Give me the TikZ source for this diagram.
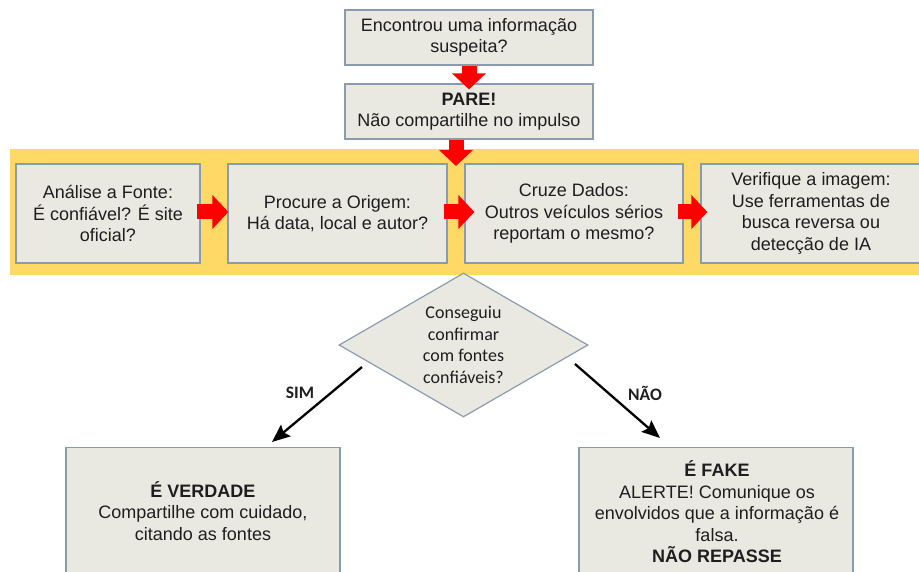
\documentclass[tikz,border=0pt]{standalone}
\usepackage{fontspec}
\setmainfont{Liberation Sans}
\newfontfamily\calib{Carlito}
\usetikzlibrary{arrows.meta,shapes.geometric,calc}
\definecolor{boxfill}{HTML}{EAE9E1}
\definecolor{boxline}{HTML}{8A9BB0}
\definecolor{band}{HTML}{FFD966}
\definecolor{txt}{HTML}{1E1E1E}
\tikzset{
  stepbox/.style={draw=boxline, line width=1.2pt, fill=boxfill, inner sep=0pt, align=center,
    text=txt, font=\fontsize{18}{21.5}\selectfont},
  fatarrow/.style={draw=red, line width=15pt, -{Triangle[width=33pt,length=16pt]}},
  decarrow/.style={draw=black, line width=2.3pt, -{Stealth[length=18pt,width=15pt,inset=3pt]}},
  declabel/.style={font=\calib\bfseries\fontsize{17.5}{20}\selectfont, text=txt},
}
\begin{document}
\begin{tikzpicture}[x=1pt,y=-1pt]
\useasboundingbox (0,0) rectangle (919,572);
\begin{scope}
\clip (0,0) rectangle (919,572);
% yellow band
\fill[band] (10,149) rectangle (930,275);
% top boxes
\node[stepbox, minimum width=248pt, minimum height=55pt] (q) at (469,37.5)
  {Encontrou uma informação\\suspeita?};
\node[stepbox, minimum width=248pt, minimum height=55pt] (pare) at (469,111.5)
  {\textbf{PARE!}\\Não compartilhe no impulso};
% band boxes
\node[stepbox, minimum width=184pt, minimum height=99pt] (b1) at (108,213.5)
  {Análise a Fonte:\\É confiável? É site\\oficial?};
\node[stepbox, minimum width=219pt, minimum height=99pt] (b2) at (337.5,213.5)
  {Procure a Origem:\\Há data, local e autor?};
\node[stepbox, minimum width=218pt, minimum height=99pt] (b3) at (574,213.5)
  {Cruze Dados:\\Outros veículos sérios\\reportam o mesmo?};
\node[stepbox, minimum width=220pt, minimum height=99pt] (b4) at (811,213.5)
  {Verifique a imagem:\\Use ferramentas de\\busca reversa ou\\detecção de IA};
% red arrows
\draw[fatarrow] (q.south) -- ([yshift=-6pt]pare.north);
\coordinate (bandtip) at (456,166);
\draw[fatarrow] ([xshift=-13pt]pare.south) -- (bandtip);
\draw[fatarrow] ([xshift=-4pt,yshift=1.5pt]b1.east) -- ([xshift=1pt,yshift=1.5pt]b2.west);
\draw[fatarrow] ([xshift=-4pt,yshift=1.5pt]b2.east) -- ([xshift=10pt,yshift=1.5pt]b3.west);
\draw[fatarrow] ([xshift=-6pt,yshift=1.5pt]b3.east) -- ([xshift=7pt,yshift=1.5pt]b4.west);
% decision
\node[diamond, shape aspect=1.73, minimum width=249pt, minimum height=144pt, inner sep=0pt,
  draw=boxline, line width=1.2pt, fill=boxfill, align=center, text=txt,
  font=\calib\fontsize{18}{21.7}\selectfont] (dia) at (463.5,345)
  {Conseguiu\\confirmar\\com fontes\\confiáveis?};
% result boxes
\node[stepbox, minimum width=274pt, minimum height=140pt, anchor=north] (ok) at (203,447) {};
\node[align=center, text=txt, font=\fontsize{18}{21.5}\selectfont] (oktxt) at (203,511)
  {\textbf{É VERDADE}\\Compartilhe com cuidado,\\citando as fontes};
\node[stepbox, minimum width=274pt, minimum height=140pt, anchor=north] (fake) at (716,447) {};
\node[align=center, text=txt, font=\fontsize{18}{21.5}\selectfont] (faketxt) at (717,512)
  {\textbf{É FAKE}\\ALERTE! Comunique os\\envolvidos que a informação é\\falsa.\\\textbf{NÃO REPASSE}};
% decision arrows
\coordinate (s1) at (362,367);
\coordinate (s2) at (272,442);
\coordinate (n1) at (575,364);
\coordinate (n2) at (660,438);
\draw[decarrow] (s1) -- (s2);
\draw[decarrow] (n1) -- (n2);
\node[declabel] (sim) at (300,393) {SIM};
\node[declabel] (nao) at (645,393) {NÃO};
\end{scope}
\end{tikzpicture}
\end{document}
